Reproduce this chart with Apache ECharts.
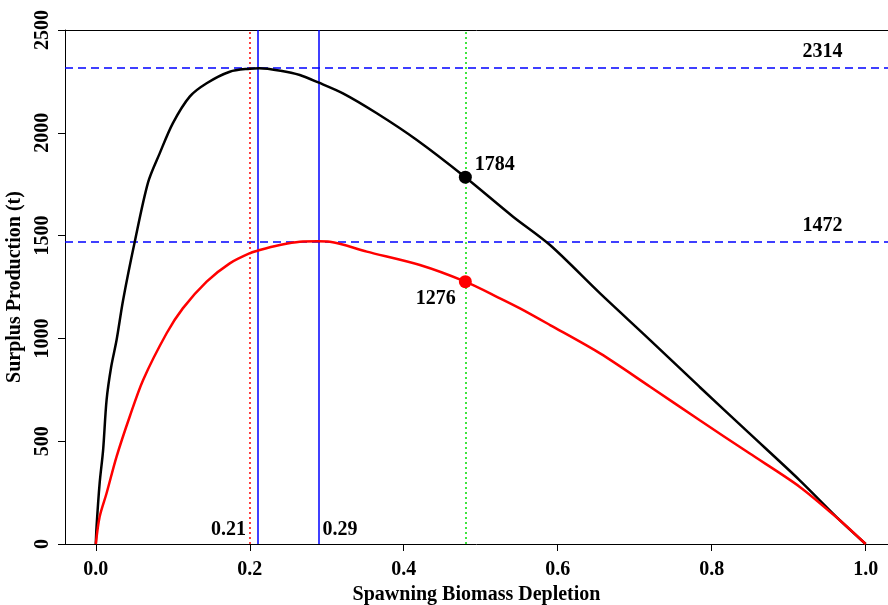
<!DOCTYPE html>
<html lang="en">
<head>
    <meta charset="UTF-8">
    <title>Surplus Production</title>
    <script src="https://cdn.jsdelivr.net/npm/echarts@6/dist/echarts.min.js"></script>
    <style>
        html, body { margin: 0; padding: 0; background: #fff; }
    </style>
</head>
<body>
    <div id="chart" style="width: 888px; height: 605px;"></div>
</body>
</html>
<script>
    // black curve (upper)
    var blackX = [0, 0.001, 0.005, 0.0095, 0.014, 0.02, 0.027, 0.0355, 0.0506, 0.068, 0.083, 0.1, 0.122, 0.144, 0.174, 0.2, 0.212, 0.24, 0.265, 0.289, 0.321, 0.365, 0.417, 0.48, 0.542, 0.59, 0.655, 0.72, 0.784, 0.849, 0.914, 0.966, 1.0];
    var blackY = [0, 85, 296, 457, 700, 862, 992, 1187, 1470, 1760, 1900, 2046, 2176, 2241, 2297, 2312, 2314, 2302, 2281, 2245, 2192, 2095, 1965, 1784, 1592, 1454, 1219, 992, 765, 538, 311, 117, 0];
    // red curve (lower)
    var redX = [0, 0.005, 0.014, 0.027, 0.044, 0.0615, 0.092, 0.113, 0.144, 0.174, 0.2, 0.213, 0.239, 0.265, 0.288, 0.304, 0.352, 0.421, 0.48, 0.525, 0.551, 0.59, 0.655, 0.72, 0.784, 0.849, 0.914, 0.966, 1.0];
    var redY = [0, 133, 247, 425, 619, 798, 1025, 1146, 1276, 1365, 1414, 1430, 1454, 1470, 1472, 1470, 1422, 1357, 1276, 1195, 1146, 1065, 927, 765, 603, 441, 279, 117, 0];

    var xTicks = [0, 0.2, 0.4, 0.6, 0.8, 1.0];
    var hLines = [2314, 1472];
    var vBlue = [0.212, 0.288];
    var vRed = 0.2;
    var vGreen = 0.48;
    var blackPt = [0.48, 1784];
    var redPt = [0.48, 1276];
    // text notes: [x, y, text]
    var notes = [[0.944, 2314, '2314'], [0.944, 1472, '1472'], [0.212, 0, '0.21'], [0.288, 0, '0.29']];

    var font = 'Liberation Serif';
    var txt = { fontFamily: font, fontWeight: 'bold', fontSize: 20, color: '#000' };

    var pairs = function (xs, ys) { return xs.map(function (x, i) { return [x, ys[i]]; }); };

    var chart = echarts.init(document.getElementById('chart'));
    chart.setOption({
        animation: false,
        grid: { left: 65, right: 0, top: 30, bottom: 61, outerBoundsMode: 'none', containLabel: false },
        xAxis: [{
            type: 'value', min: -0.04, max: 1.029,
            name: 'Spawning Biomass Depletion', nameLocation: 'middle', nameGap: 39,
            nameTextStyle: txt,
            axisLine: { onZero: false, lineStyle: { color: '#000', width: 1 } },
            axisTick: { length: 7, lineStyle: { color: '#000' }, customValues: xTicks },
            axisLabel: Object.assign({ margin: 16, customValues: xTicks, formatter: function (v) { return v.toFixed(1); } }, txt),
            splitLine: { show: false }
        }, {
            type: 'value', position: 'top', min: -0.04, max: 1.029,
            axisLine: { show: true, onZero: false, lineStyle: { color: '#000', width: 1 } },
            axisTick: { show: false }, axisLabel: { show: false }, splitLine: { show: false }
        }],
        yAxis: {
            type: 'value', min: 0, max: 2500, interval: 500,
            name: 'Surplus Production (t)', nameLocation: 'middle', nameGap: 38, nameRotate: 90,
            nameTextStyle: txt,
            axisLine: { show: true, onZero: false, lineStyle: { color: '#000', width: 1 } },
            axisTick: { show: true, length: 7, lineStyle: { color: '#000' } },
            axisLabel: Object.assign({ rotate: 90, margin: 12, formatter: function (v) { return String(v); } }, txt),
            splitLine: { show: false }
        },
        series: [
            {
                type: 'line', data: pairs(blackX, blackY), symbol: 'none', smooth: 0.3,
                lineStyle: { color: '#000', width: 2.5 }, z: 5,
                markLine: {
                    symbol: 'none', silent: true, label: { show: false },
                    data: [
                        { yAxis: hLines[0], lineStyle: { color: '#0000ff', type: [8, 5], width: 1.5 } },
                        { yAxis: hLines[1], lineStyle: { color: '#0000ff', type: [8, 5], width: 1.5 } },
                        { xAxis: vBlue[0], lineStyle: { color: '#0000ff', type: 'solid', width: 1.5 } },
                        { xAxis: vBlue[1], lineStyle: { color: '#0000ff', type: 'solid', width: 1.5 } },
                        { xAxis: vRed, lineStyle: { color: '#ff0000', type: [2, 3], width: 1.5 } },
                        { xAxis: vGreen, lineStyle: { color: '#00dd00', type: [2, 3], width: 1.5 } }
                    ]
                }
            },
            {
                type: 'line', data: pairs(redX, redY), symbol: 'none', smooth: 0.3,
                lineStyle: { color: '#ff0000', width: 2.5 }, z: 5
            },
            {
                type: 'scatter', symbolSize: 13, z: 6,
                itemStyle: { opacity: 1 },
                data: [
                    { value: blackPt, itemStyle: { color: '#000' },
                      label: Object.assign({ show: true, position: 'right', distance: 3, offset: [0, -12], formatter: String(blackPt[1]) }, txt) },
                    { value: redPt, itemStyle: { color: '#ff0000' },
                      label: Object.assign({ show: true, position: 'left', distance: 3, offset: [0, 17], formatter: String(redPt[1]) }, txt) }
                ]
            },
            {
                type: 'scatter', symbolSize: 0, z: 7, silent: true,
                itemStyle: { opacity: 1 },
                data: notes.map(function (n, i) {
                    var pos = i < 2 ? 'top' : (i === 2 ? 'left' : 'right');
                    var off = i < 2 ? [0, 0] : [0, -14];
                    var dist = i < 2 ? 6 : (i === 2 ? 13 : 5);
                    return {
                        value: [n[0], n[1]],
                        label: Object.assign({ show: true, position: pos, distance: dist, offset: off, formatter: n[2] }, txt)
                    };
                })
            }
        ]
    });
    window.onresize = chart.resize;
</script>
